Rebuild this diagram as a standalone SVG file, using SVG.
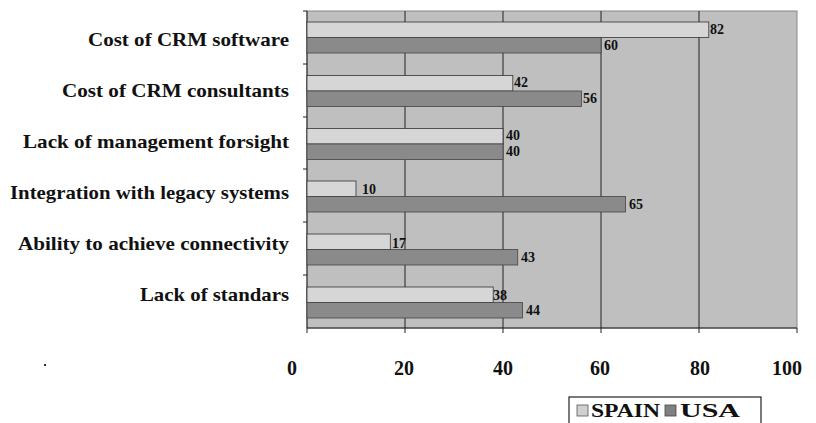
<svg xmlns="http://www.w3.org/2000/svg" width="816" height="423" viewBox="0 0 816 423">
<style>
.cat{font-family:"Liberation Serif","Times New Roman",serif;font-size:19px;font-weight:bold;fill:#111;text-anchor:end}
.val{font-family:"Liberation Serif","Times New Roman",serif;font-size:14px;font-weight:bold;fill:#111}
.ax{font-family:"Liberation Serif","Times New Roman",serif;font-size:20px;font-weight:bold;fill:#111;text-anchor:middle}
.leg{font-family:"Liberation Serif","Times New Roman",serif;font-size:19px;font-weight:bold;fill:#111}
.spain{fill:#d6d6d6;stroke:#333;stroke-width:0.8}
.usa{fill:#8a8a8a;stroke:#444;stroke-width:0.8}
.grid{stroke:#222;stroke-width:1}
</style>
<rect width="816" height="423" fill="#fff"/>
<g id="plot">
<rect x="307" y="11" width="490" height="317" fill="#bfbfbf" stroke="#888" stroke-width="1"/>
</g>
<g id="connectors">
<line class="grid" x1="405" y1="11" x2="405" y2="328"/>
<line class="grid" x1="503" y1="11" x2="503" y2="328"/>
<line class="grid" x1="601" y1="11" x2="601" y2="328"/>
<line class="grid" x1="699" y1="11" x2="699" y2="328"/>
<line class="grid" x1="307" y1="11" x2="307" y2="328"/>
<line class="grid" x1="307" y1="328" x2="797" y2="328"/>
<line class="grid" x1="797" y1="328" x2="797" y2="333"/>
<line class="grid" x1="307" y1="328" x2="307" y2="333"/>
<line class="grid" x1="405" y1="328" x2="405" y2="333"/>
<line class="grid" x1="503" y1="328" x2="503" y2="333"/>
<line class="grid" x1="601" y1="328" x2="601" y2="333"/>
<line class="grid" x1="699" y1="328" x2="699" y2="333"/>
<line class="grid" x1="303" y1="11" x2="307" y2="11"/>
<line class="grid" x1="303" y1="64" x2="307" y2="64"/>
<line class="grid" x1="303" y1="117" x2="307" y2="117"/>
<line class="grid" x1="303" y1="169" x2="307" y2="169"/>
<line class="grid" x1="303" y1="222" x2="307" y2="222"/>
<line class="grid" x1="303" y1="275" x2="307" y2="275"/>
</g>
<g id="cat1">
<text class="cat" x="289" y="46" textLength="201" lengthAdjust="spacingAndGlyphs">Cost of CRM software</text>
<rect class="spain" x="307" y="22" width="401.8" height="15.5"/>
<rect class="usa" x="307" y="37.5" width="294" height="15.5"/>
<text class="val" x="710" y="34">82</text>
<text class="val" x="604" y="50">60</text>
</g>
<g id="cat2">
<text class="cat" x="289" y="97" textLength="227" lengthAdjust="spacingAndGlyphs">Cost of CRM consultants</text>
<rect class="spain" x="307" y="75.5" width="205.8" height="15.5"/>
<rect class="usa" x="307" y="91" width="274.4" height="15.5"/>
<text class="val" x="514" y="87">42</text>
<text class="val" x="583" y="103">56</text>
</g>
<g id="cat3">
<text class="cat" x="289" y="148" textLength="266" lengthAdjust="spacingAndGlyphs">Lack of management forsight</text>
<rect class="spain" x="307" y="128.5" width="196" height="15.5"/>
<rect class="usa" x="307" y="144" width="196" height="15.5"/>
<text class="val" x="506" y="140">40</text>
<text class="val" x="506" y="156">40</text>
</g>
<g id="cat4">
<text class="cat" x="289" y="199" textLength="279" lengthAdjust="spacingAndGlyphs">Integration with legacy systems</text>
<rect class="spain" x="307" y="181" width="49" height="15.5"/>
<rect class="usa" x="307" y="196.5" width="318.5" height="15.5"/>
<text class="val" x="362" y="194">10</text>
<text class="val" x="629" y="209">65</text>
</g>
<g id="cat5">
<text class="cat" x="289" y="250" textLength="271" lengthAdjust="spacingAndGlyphs">Ability to achieve connectivity</text>
<rect class="spain" x="307" y="234" width="83.3" height="15.5"/>
<rect class="usa" x="307" y="249.5" width="210.7" height="15.5"/>
<text class="val" x="392" y="248">17</text>
<text class="val" x="521" y="262">43</text>
</g>
<g id="cat6">
<text class="cat" x="289" y="301" textLength="149" lengthAdjust="spacingAndGlyphs">Lack of standars</text>
<rect class="spain" x="307" y="287" width="186.2" height="15.5"/>
<rect class="usa" x="307" y="302.5" width="215.6" height="15.5"/>
<text class="val" x="493" y="300">38</text>
<text class="val" x="526" y="315">44</text>
</g>
<g id="axis-labels">
<text class="ax" x="292" y="375">0</text>
<text class="ax" x="404" y="375">20</text>
<text class="ax" x="503" y="375">40</text>
<text class="ax" x="600" y="375">60</text>
<text class="ax" x="700" y="375">80</text>
<text class="ax" x="787" y="375">100</text>
</g>
<rect x="44" y="364" width="2" height="2" fill="#333"/>
<g id="legend">
<rect x="569" y="397" width="192" height="30" fill="#fff" stroke="#222" stroke-width="1.2"/>
<rect x="577" y="405" width="11" height="11" fill="#d0d0d0" stroke="#555" stroke-width="0.8"/>
<text class="leg" x="591" y="417" textLength="69" lengthAdjust="spacingAndGlyphs">SPAIN</text>
<rect x="665" y="405" width="11" height="11" fill="#808080" stroke="#444" stroke-width="0.8"/>
<text class="leg" x="680" y="417" textLength="60" lengthAdjust="spacingAndGlyphs">USA</text>
</g>
</svg>
